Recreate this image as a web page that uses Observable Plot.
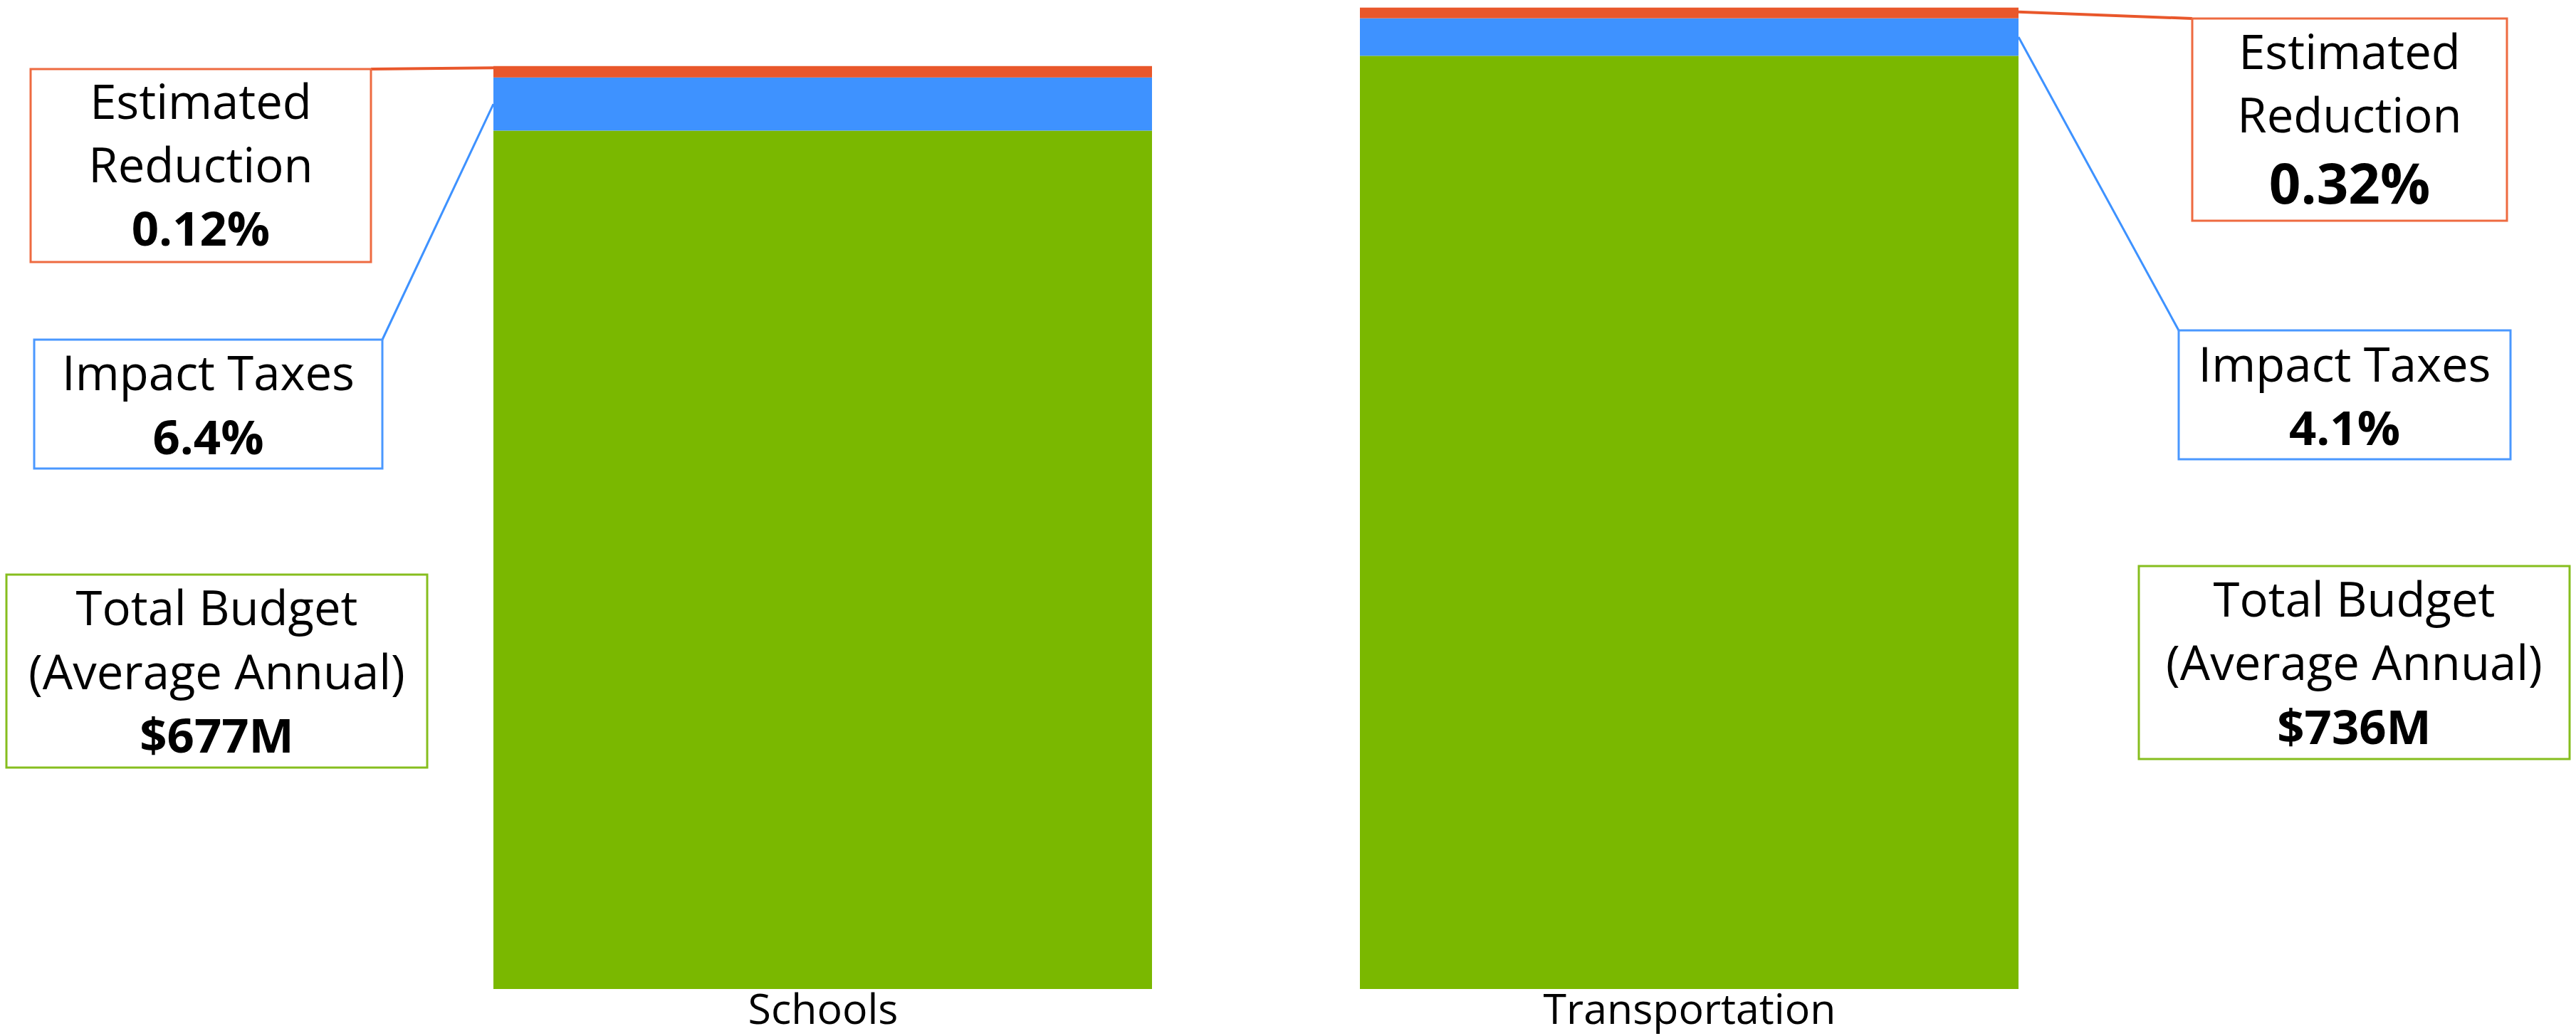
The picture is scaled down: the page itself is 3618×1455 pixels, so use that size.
<!DOCTYPE html>
<html>
<head>
<meta charset="utf-8">
<script src="https://cdn.jsdelivr.net/npm/d3@7"></script>
<script src="https://cdn.jsdelivr.net/npm/@observablehq/plot@0.6"></script>
<style>
  html, body { margin: 0; padding: 0; background: #fff; }
  #chart svg { display: block; }
</style>
</head>
<body>
<div id="chart"></div>
<script>
// ---- data ($M as drawn) ----
const categories = ["Schools", "Transportation"];
const totalBudget = [677, 736];        // green segment
const impactTaxes = [41.9, 29.6];      // blue segment
const estReduction = [9.0, 8.4];       // orange segment (as drawn)
const budgetLabels = ["$677M", "$736M"];
const impactLabels = ["6.4%", "4.1%"];
const reductionLabels = ["0.12%", "0.32%"];
const seriesNames = ["Total Budget", "Impact Taxes", "Estimated Reduction"];
const seriesColors = ["#7AB800", "#3E92FF", "#E9572B"];

const rows = categories.flatMap((c, i) => [
  {category: c, series: seriesNames[0], value: totalBudget[i]},
  {category: c, series: seriesNames[1], value: impactTaxes[i]},
  {category: c, series: seriesNames[2], value: estReduction[i]}
]);

const FONT = "'Open Sans', 'Noto Sans', sans-serif";

const svg = Plot.plot({
  width: 3618,
  height: 1455,
  marginTop: 0,
  marginBottom: 66,
  marginLeft: 692,
  marginRight: 782,
  style: {fontFamily: FONT, fontSize: "59px", color: "#000", background: "#fff"},
  x: {domain: categories, paddingInner: 0.2397, paddingOuter: 0, axis: null},
  y: {domain: [0, 780], axis: null},
  color: {domain: seriesNames, range: seriesColors},
  marks: [
    Plot.barY(rows, {x: "category", y: "value", fill: "series"}),
    Plot.axisX({tickSize: 0, tickPadding: 7, fontSize: 59, label: null, fill: "#000"})
  ]
});
document.getElementById("chart").appendChild(svg);

// ---- annotation callouts ----
const xs = svg.scale("x");
const ys = svg.scale("y");
const bw = xs.bandwidth;
const g = d3.select(svg).append("g").attr("font-family", FONT);

const layout = [
  { // Schools (left side)
    red:   {x: 43,  y: 97,  w: 478, h: 271, base: [167, 256, 345], big: 67},
    blue:  {x: 48,  y: 477, w: 489, h: 181, base: [548, 638]},
    green: {x: 9,   y: 807, w: 591, h: 271, base: [878, 968, 1057]},
    side: "left", redF: 0.85
  },
  { // Transportation (right side)
    red:   {x: 3079, y: 26,  w: 442, h: 284, base: [97, 186, 286], big: 78},
    blue:  {x: 3060, y: 464, w: 466, h: 181, base: [536, 625]},
    green: {x: 3004, y: 795, w: 605, h: 271, base: [866, 955, 1045]},
    side: "right", redF: 0.6
  }
];

const boxColors = {red: "#EE6A40", blue: "#4A98FF", green: "#86BE1E"};
const lineColors = {red: "#E9572B", blue: "#3E92FF"};

function drawBox(b, color, lines) {
  g.append("rect")
    .attr("x", b.x).attr("y", b.y).attr("width", b.w).attr("height", b.h)
    .attr("fill", "#fff").attr("stroke", color).attr("stroke-width", 3);
  lines.forEach((ln, k) => {
    g.append("text")
      .attr("x", b.x + b.w / 2).attr("y", b.base[k])
      .attr("text-anchor", "middle")
      .attr("font-size", ln.size || 67)
      .attr("font-weight", ln.bold ? 700 : 400)
      .attr("fill", "#000")
      .text(ln.text);
  });
}

layout.forEach((L, i) => {
  const c = categories[i];
  const barEdge = L.side === "left" ? xs.apply(c) : xs.apply(c) + bw;
  const yRed = ys.apply(totalBudget[i] + impactTaxes[i] + estReduction[i] * L.redF);
  const yBlue = ys.apply(totalBudget[i] + impactTaxes[i] * 0.5);

  // connectors
  const redEnd = L.side === "left" ? [L.red.x + L.red.w, L.red.y] : [L.red.x, L.red.y];
  const blueEnd = L.side === "left" ? [L.blue.x + L.blue.w, L.blue.y] : [L.blue.x, L.blue.y];
  g.append("line").attr("x1", barEdge).attr("y1", yRed).attr("x2", redEnd[0]).attr("y2", redEnd[1])
    .attr("stroke", lineColors.red).attr("stroke-width", 4);
  g.append("line").attr("x1", barEdge).attr("y1", yBlue).attr("x2", blueEnd[0]).attr("y2", blueEnd[1])
    .attr("stroke", lineColors.blue).attr("stroke-width", 3);

  drawBox(L.red, boxColors.red, [
    {text: "Estimated"}, {text: "Reduction"}, {text: reductionLabels[i], bold: true, size: L.red.big}
  ]);
  drawBox(L.blue, boxColors.blue, [
    {text: "Impact Taxes"}, {text: impactLabels[i], bold: true}
  ]);
  drawBox(L.green, boxColors.green, [
    {text: "Total Budget"}, {text: "(Average Annual)"}, {text: budgetLabels[i], bold: true}
  ]);
});
</script>
</body>
</html>
